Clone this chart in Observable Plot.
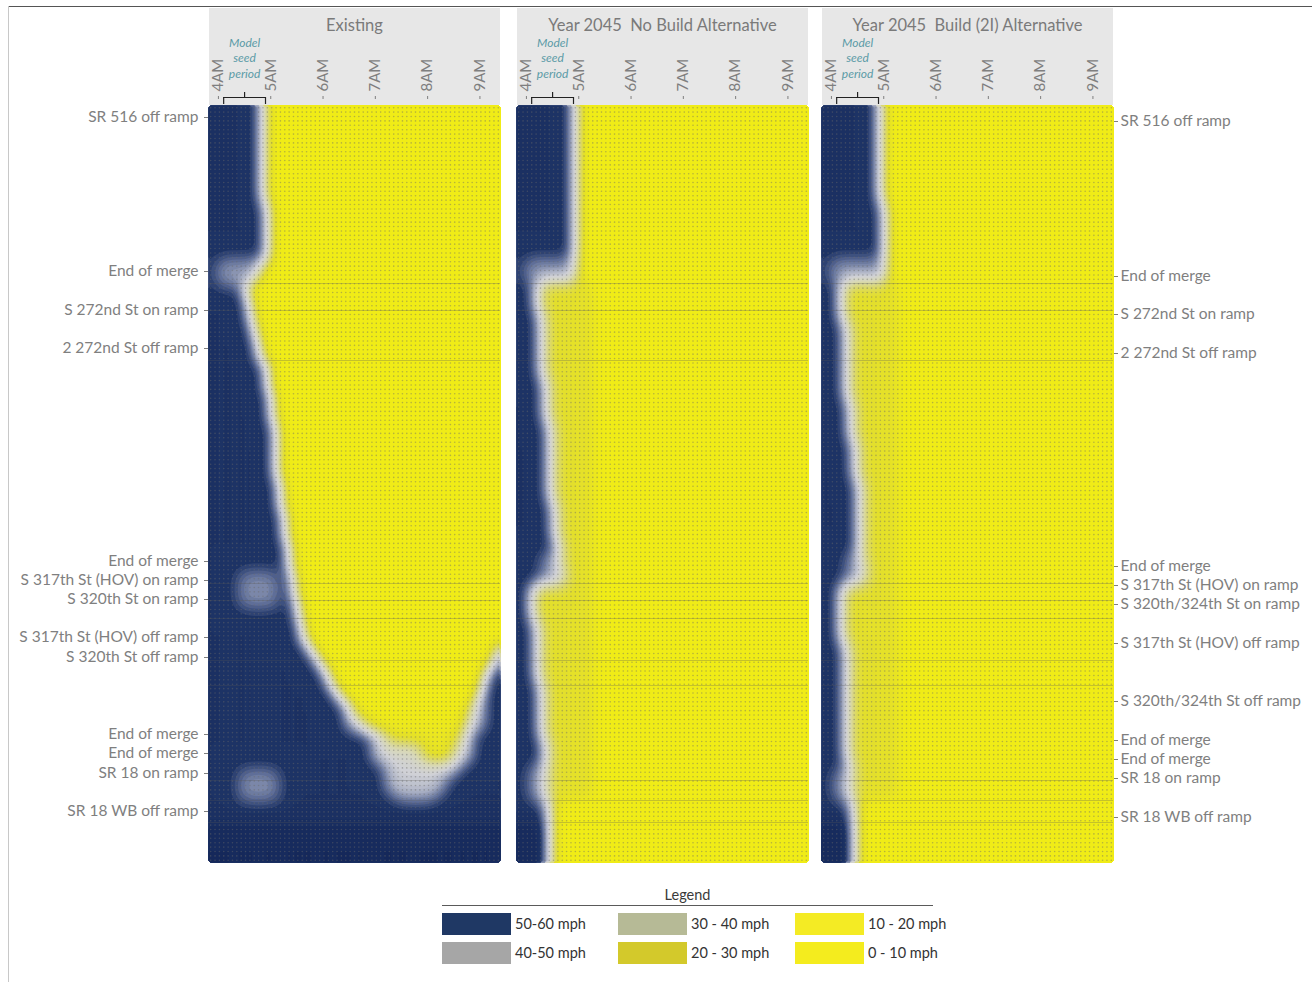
<!DOCTYPE html>
<html>
<head>
<meta charset="utf-8">
<script src="https://cdn.jsdelivr.net/npm/d3@7"></script>
<script src="https://cdn.jsdelivr.net/npm/@observablehq/plot@0.6"></script>
<style>
  body { margin: 0; background: #fff; font-family: Lato, "Liberation Sans", sans-serif; }
  #wrap { position: relative; width: 1312px; height: 982px; overflow: hidden; background: #fff; }
  .edgeTop { position: absolute; left: 8px; right: 0; top: 6px; height: 0; border-top: 1px solid #555; }
  .edgeLeft { position: absolute; left: 8px; top: 6px; bottom: 0; width: 0; border-left: 1px solid #c8c8c8; }
  .hdr { position: absolute; top: 8px; height: 97px; background: #e7e7e7; }
  .ttl { position: absolute; top: 7px; left: 0; right: 0; text-align: center; font-size: 16.5px; color: #7a7a7a; white-space: pre; }
  .lgTitle { position: absolute; left: 442px; width: 491px; top: 886px; text-align: center; font-size: 14.5px; color: #3a3a3a; }
  .lgLine { position: absolute; left: 442px; width: 491px; top: 905px; border-top: 1.5px solid #5a5a5a; }
  .sw { position: absolute; width: 69px; height: 22px; }
  .swl { position: absolute; font-size: 14.5px; color: #333; line-height: 22px; white-space: pre; }
</style>
</head>
<body>
<div id="wrap">
  <div class="edgeTop"></div>
  <div class="edgeLeft"></div>
</div>
<script>
// ---------------- data ----------------
const panelTitles = ["Existing", "Year 2045  No Build Alternative", "Year 2045  Build (2I) Alternative"];

const hourTicks = [4, 5, 6, 7, 8, 9];
const hourLabels = ["4AM", "5AM", "6AM", "7AM", "8AM", "9AM"];

// corridor position (miles from the top of the plotted section)
const leftLabels = ["SR 516 off ramp", "End of merge", "S 272nd St on ramp", "2 272nd St off ramp", "End of merge",
  "S 317th St (HOV) on ramp", "S 320th St on ramp", "S 317th St (HOV) off ramp", "S 320th St off ramp",
  "End of merge", "End of merge", "SR 18 on ramp", "SR 18 WB off ramp"];
const leftLabelMiles = [0.12, 1.66, 2.05, 2.43, 4.56, 4.75, 4.94, 5.32, 5.52, 6.29, 6.48, 6.68, 7.06];

const rightLabels = ["SR 516 off ramp", "End of merge", "S 272nd St on ramp", "2 272nd St off ramp", "End of merge",
  "S 317th St (HOV) on ramp", "S 320th/324th St on ramp", "S 317th St (HOV) off ramp", "S 320th/324th St off ramp",
  "End of merge", "End of merge", "SR 18 on ramp", "SR 18 WB off ramp"];
const rightLabelMiles = [0.16, 1.71, 2.09, 2.48, 4.61, 4.80, 4.99, 5.38, 5.96, 6.35, 6.54, 6.73, 7.12];

const seedPeriod = [4.1, 4.9];
const seedText = "Model\nseed\nperiod";

// link boundaries visible as faint lines
const linkBreaks = [1.78, 2.05, 2.55, 4.78, 4.95, 5.13, 5.55, 5.80, 6.75, 6.95, 7.17];

// rows: [segment end (mi), congestion onset (h), congestion end (h, null = past 9AM), congested speed (mph)]
const existingRows = [
  [0.45, 4.90, null, 12], [0.95, 4.92, null, 12], [1.35, 4.96, null, 12], [1.60, 5.01, null, 12],
  [1.78, 4.84, null, 12], [1.95, 4.52, null, 12], [2.15, 4.61, null, 12], [2.35, 4.73, null, 12],
  [2.55, 4.84, null, 12], [2.85, 4.94, null, 12], [3.15, 5.03, null, 12], [3.45, 5.11, null, 12],
  [3.75, 5.18, null, 12], [4.05, 5.26, null, 12], [4.35, 5.34, null, 12], [4.65, 5.41, null, 12],
  [4.95, 5.49, null, 12], [5.15, 5.58, null, 12], [5.35, 5.68, null, 12], [5.50, 5.81, 9.31, 12],
  [5.65, 5.95, 9.19, 12], [5.80, 6.14, 9.10, 12], [5.95, 6.33, 8.96, 12], [6.10, 6.56, 8.85, 14],
  [6.25, 6.81, 8.73, 15], [6.40, 7.19, 8.66, 18], [6.55, 7.86, 8.47, 16], [6.70, 7.19, 8.53, 40],
  [6.85, 7.24, 8.33, 42], [6.95, 7.38, 8.14, 46], [7.57, null, null, 12]
];
// local slowdowns: [from (mi), to (mi), start (h), end (h), speed (mph)]
const existingSlowdowns = [
  [1.53, 1.80, 3.94, 4.90, 47], [4.68, 5.02, 4.42, 5.13, 48], [6.63, 6.95, 4.36, 5.18, 48],
  [5.95, 6.25, 6.45, 9.05, 42], [6.25, 6.40, 6.96, 8.81, 40], [6.40, 6.55, 6.96, 8.81, 38]
];

const noBuildRows = [
  [0.95, 4.94, null, 12], [1.60, 4.97, null, 12], [1.78, 4.97, null, 12], [2.05, 4.21, null, 12],
  [2.35, 4.27, null, 12], [2.75, 4.33, null, 12], [3.15, 4.38, null, 12], [3.55, 4.44, null, 12],
  [3.95, 4.50, null, 12], [4.35, 4.57, null, 12], [4.60, 4.65, null, 12], [4.78, 4.71, null, 12],
  [5.15, 4.17, null, 12], [5.75, 4.23, null, 12], [6.35, 4.31, null, 12], [6.65, 4.36, null, 12],
  [6.95, 4.42, null, 12], [7.57, 4.48, null, 12]
];
const noBuildSlowdowns = [[1.53, 1.78, 3.98, 4.94, 47], [4.50, 4.78, 4.27, 4.94, 46], [6.60, 6.95, 4.08, 4.46, 47]];
const noBuildBand = [1.78, 6.95, 4.20, 5.30, 21];

const buildRows = [
  [0.95, 4.955, null, 12], [1.60, 5.05, null, 12], [1.78, 5.09, null, 12], [2.15, 4.23, null, 12],
  [2.55, 4.29, null, 12], [2.95, 4.34, null, 12], [3.35, 4.40, null, 12], [3.75, 4.46, null, 12],
  [4.15, 4.52, null, 12], [4.55, 4.59, null, 12], [4.80, 4.67, null, 12], [5.35, 4.23, null, 12],
  [5.95, 4.29, null, 12], [6.55, 4.34, null, 12], [6.95, 4.40, null, 12], [7.57, 4.48, null, 12]
];
const buildSlowdowns = [[1.53, 1.78, 3.98, 4.94, 47], [4.50, 4.80, 4.27, 4.94, 46], [6.65, 6.95, 4.10, 4.47, 47]];
const buildBand = [1.78, 6.95, 4.27, 5.35, 21];

const freeFlow = 55, freeFlowSouth = 58, southFrom = 7.16;

// colour ramp for speed (mph)
const rampSpeeds = [0, 14, 21, 27, 34, 40, 45, 50, 54, 58];
const rampColors = ["#f3ef14", "#efeb18", "#e3df2c", "#dad872", "#d8d8b8", "#d0d1d6", "#a6adc2", "#5f6e98", "#1d3365", "#15285a"];

const legendLabels = ["50-60 mph", "40-50 mph", "30 - 40 mph", "20 - 30 mph", "10 - 20 mph", "0 - 10 mph"];
const legendColors = ["#1f3864", "#a6a6a6", "#b6ba96", "#d3c92b", "#f4eb24", "#f4ec1e"];

// ---------------- grid & helpers ----------------
const binHours = 1 / 12, nCols = 67, tStart = 3.81, tEnd = tStart + nCols * binHours;
const yEnd = 7.57, nRows = 172, rowPitch = yEnd / nRows;
const seedMid = (seedPeriod[0] + seedPeriod[1]) / 2;
const thresholds = d3.range(0, 59, 1);

function speedAt(rows, slow, band, t, y) {
  const row = rows.find(r => y <= r[0]) ?? rows[rows.length - 1];
  let s = y > southFrom ? freeFlowSouth : freeFlow;
  const [, on, off, cong] = row;
  if (on != null && t >= on && (off == null || t < off)) s = cong;
  if (band && y >= band[0] && y < band[1] && t >= band[2] && t < band[3] && s <= band[4]) s = band[4];
  for (const [y1, y2, t1, t2, v] of slow) if (y >= y1 && y < y2 && t >= t1 && t < t2) s = Math.min(s, v);
  return s;
}

const leftMap = new Map(leftLabelMiles.map((m, i) => [m, leftLabels[i]]));
const rightMap = new Map(rightLabelMiles.map((m, i) => [m, rightLabels[i]]));
const hourMap = new Map(hourTicks.map((h, i) => [h, hourLabels[i]]));

const panels = [
  {title: panelTitles[0], rows: existingRows, slow: existingSlowdowns, band: null, axis: "left", svgLeft: 0, width: 510, mL: 208, mR: 10},
  {title: panelTitles[1], rows: noBuildRows, slow: noBuildSlowdowns, band: noBuildBand, axis: null, svgLeft: 506, width: 312, mL: 10, mR: 10},
  {title: panelTitles[2], rows: buildRows, slow: buildSlowdowns, band: buildBand, axis: "right", svgLeft: 811, width: 501, mL: 10, mR: 199}
];

const wrap = document.getElementById("wrap");
const grey = "#7f7f7f";

for (const p of panels) {
  const hdr = document.createElement("div");
  hdr.className = "hdr";
  hdr.style.left = (p.svgLeft + p.mL + 1) + "px";
  hdr.style.width = (p.width - p.mL - p.mR - 1) + "px";
  const ttl = document.createElement("div");
  ttl.className = "ttl";
  ttl.textContent = p.title;
  hdr.appendChild(ttl);
  wrap.appendChild(hdr);
}

for (const p of panels) {
  const cells = [];
  for (let r = 0; r < nRows; r++) {
    for (let c = 0; c < nCols; c++) {
      const t = tStart + (c + 0.5) * binHours;
      const y = (r + 0.5) * rowPitch;
      cells.push({t, y, speed: speedAt(p.rows, p.slow, p.band, t, y)});
    }
  }
  const marks = [
    Plot.contour(cells, {x: "t", y: "y", fill: "speed", interpolate: "nearest", width: nCols, height: nRows,
      blur: 1.2, thresholds, stroke: "none"}),
    Plot.dot(cells, {x: "t", y: "y", r: 0.8, fill: "#6a6a6a", fillOpacity: 0.45}),
    Plot.ruleY(linkBreaks, {stroke: "#555", strokeOpacity: 0.28}),
    Plot.axisX(hourTicks, {anchor: "top", label: null, tickRotate: -90, tickFormat: d => hourMap.get(d), tickSize: 3,
      tickPadding: 4, dy: -7, fontSize: 15, color: grey}),
    Plot.text([seedText], {x: seedMid, frameAnchor: "top", lineAnchor: "middle", dy: -48, text: d => d, fontStyle: "italic",
      fontSize: 12, lineHeight: 1.28, fill: "#5a9aa6"}),
    Plot.ruleY([0], {x1: seedPeriod[0], x2: seedPeriod[1], dy: -8, stroke: "#222", strokeWidth: 1.2}),
    Plot.ruleX(seedPeriod, {y1: 0, y2: 0, insetTop: -7, dy: -1, stroke: "#222", strokeWidth: 1.2}),
    Plot.ruleX([seedMid], {y1: 0, y2: 0, insetTop: -5, dy: -8, stroke: "#222", strokeWidth: 1.2})
  ];
  if (p.axis === "left") marks.push(Plot.axisY(leftLabelMiles, {anchor: "left", label: null, tickFormat: d => leftMap.get(d),
    tickSize: 4, tickPadding: 6, fontSize: 15.5, color: grey}));
  if (p.axis === "right") marks.push(Plot.axisY(rightLabelMiles, {anchor: "right", label: null, tickFormat: d => rightMap.get(d),
    tickSize: 4, tickPadding: 3, fontSize: 15.5, color: grey}));

  const svg = Plot.plot({
    width: p.width, height: 867,
    marginLeft: p.mL, marginRight: p.mR, marginTop: 105, marginBottom: 5,
    style: {fontFamily: "Lato, sans-serif", background: "none", overflow: "visible"},
    x: {domain: [tStart, tEnd], label: null},
    y: {domain: [0, yEnd], reverse: true, label: null, axis: p.axis ? undefined : null},
    color: {type: "linear", domain: rampSpeeds, range: rampColors, clamp: true},
    marks
  });
  svg.style.position = "absolute";
  svg.style.left = p.svgLeft + "px";
  svg.style.top = "0px";
  wrap.appendChild(svg);
}

// legend (HTML, below the chart)
const lgT = document.createElement("div"); lgT.className = "lgTitle"; lgT.textContent = "Legend"; wrap.appendChild(lgT);
const lgL = document.createElement("div"); lgL.className = "lgLine"; wrap.appendChild(lgL);
const colLefts = [442, 618, 795], rowTops = [913, 942];
legendLabels.forEach((lab, i) => {
  const col = Math.floor(i / 2), row = i % 2;
  const sw = document.createElement("div");
  sw.className = "sw";
  sw.style.left = colLefts[col] + "px"; sw.style.top = rowTops[row] + "px";
  sw.style.background = legendColors[i];
  wrap.appendChild(sw);
  const tx = document.createElement("div");
  tx.className = "swl";
  tx.style.left = (colLefts[col] + 73) + "px"; tx.style.top = rowTops[row] + "px";
  tx.textContent = lab;
  wrap.appendChild(tx);
});
</script>
</body>
</html>
